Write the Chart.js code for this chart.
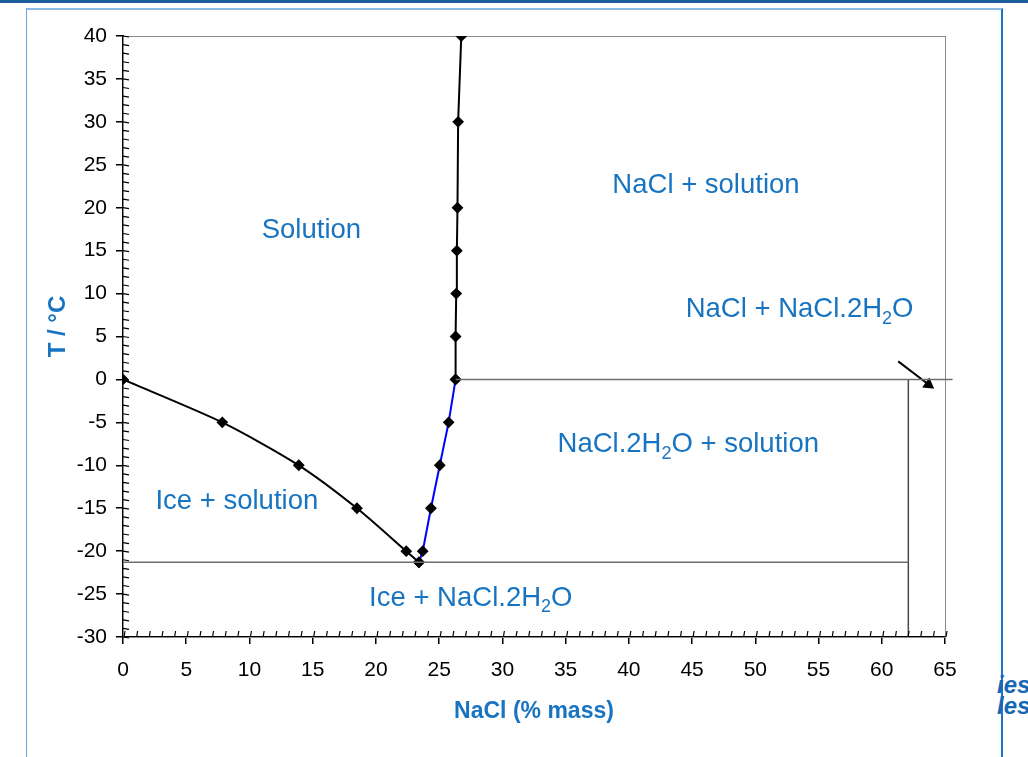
<html>
<head>
<script src="https://cdn.jsdelivr.net/npm/chart.js"></script>
<style>
  body { margin:0; background:#fff; font-family:"Liberation Sans", Arial, sans-serif; }
  #bar { position:absolute; left:0; top:0; width:1028px; height:3px; background:#1d5e9e; }
  #frame { position:absolute; left:26px; top:8px; width:974px; height:800px;
           border-left:1px solid #6aa6dc; border-top:2px solid #8bbbe6; border-right:2px solid #1874c1; }
  #logo { position:absolute; left:997px; top:674px; color:#1668b5; font:italic bold 24px "Liberation Sans", Arial, sans-serif; line-height:21px; }
  #c { position:absolute; left:0; top:0; }
</style>
</head>
<body>
<div id="bar"></div>
<div id="frame"></div>
<div id="logo">ies<br>les</div>
<canvas id="c" width="1028" height="757"></canvas>
<script>
// liquidus of ice
var iceX = [0, 7.85, 13.9, 18.5, 22.4, 23.4];
var iceT = [0, -5, -10, -15, -20, -21.3];
// NaCl.2H2O solubility
var hydX = [23.4, 23.7, 24.35, 25.05, 25.75, 26.3];
var hydT = [-21.3, -20, -15, -10, -5, 0];
// NaCl solubility
var saltX = [26.3, 26.3, 26.35, 26.4, 26.45, 26.5, 26.75];
var saltT = [0, 5, 10, 15, 20, 30, 40];
// horizontal / vertical phase lines
var eutX = [0, 62.1];
var eutT = [-21.3, -21.3];
var perX = [26.3, 65.6];
var perT = [0, 0];
var dihX = [62.1, 62.1];
var dihT = [-30, 0];
var arrowX = [61.3, 63.7];
var arrowT = [2.1, -0.6];

var regionText = ['Solution', 'NaCl + solution', 'NaCl + NaCl.2H₂O', 'NaCl.2H₂O + solution', 'Ice + solution', 'Ice + NaCl.2H₂O'];
var regionX = [14.9, 46.1, 53.5, 44.7, 9.0, 27.5];
var regionT = [17.3, 22.6, 8.1, -7.6, -14.2, -25.5];

var blue = '#1874c1';

function pts(xs, ys) {
  return xs.map(function(x, i) { return {x: x, y: ys[i]}; });
}

var frame = {
  id: 'frame',
  beforeDatasetsDraw: function(chart) {
    var a = chart.chartArea, ctx = chart.ctx;
    ctx.save();
    ctx.strokeStyle = '#8a8a8a';
    ctx.lineWidth = 1;
    ctx.strokeRect(a.left + 0.5, a.top + 0.5, a.right - a.left, a.bottom - a.top);
    ctx.restore();
  },
  afterDraw: function(chart) {
    var ctx = chart.ctx, xs = chart.scales.x, ys = chart.scales.y;
    ctx.save();
    ctx.strokeStyle = '#000';
    ctx.lineWidth = 1.2;
    // minor ticks, inside the axes
    for (var v = 0; v <= 65; v++) {
      var px = xs.getPixelForValue(v);
      ctx.beginPath(); ctx.moveTo(px + 1, ys.bottom); ctx.lineTo(px + 2, ys.bottom - 6); ctx.stroke();
    }
    for (var t = -30; t <= 40; t++) {
      var py = ys.getPixelForValue(t);
      ctx.beginPath(); ctx.moveTo(xs.left, py); ctx.lineTo(xs.left + 6, py + 1); ctx.stroke();
    }
    // region labels
    ctx.fillStyle = blue;
    ctx.textBaseline = 'middle';
    regionText.forEach(function(txt, i) {
      var big = '27.5px "Liberation Sans", Arial, sans-serif';
      var small = '18px "Liberation Sans", Arial, sans-serif';
      var parts = txt.split('₂');
      var w = 0;
      parts.forEach(function(p, j) {
        ctx.font = big; w += ctx.measureText(p).width;
        if (j < parts.length - 1) { ctx.font = small; w += ctx.measureText('2').width; }
      });
      var x = xs.getPixelForValue(regionX[i]) - w / 2;
      var y = ys.getPixelForValue(regionT[i]);
      ctx.textAlign = 'left';
      parts.forEach(function(p, j) {
        ctx.font = big; ctx.fillText(p, x, y); x += ctx.measureText(p).width;
        if (j < parts.length - 1) {
          ctx.font = small; ctx.fillText('2', x, y + 9); x += ctx.measureText('2').width;
        }
      });
    });
    ctx.restore();
  }
};

var tickFont = {family: '"Liberation Sans", Arial, sans-serif', size: 21};
var titleFont = {family: '"Liberation Sans", Arial, sans-serif', size: 23, weight: 'bold'};

new Chart(document.getElementById('c'), {
  type: 'scatter',
  data: {
    datasets: [
      { data: pts(eutX, eutT), showLine: true, borderColor: '#6e6e6e', borderWidth: 1.5, pointRadius: 0 },
      { data: pts(perX, perT), showLine: true, borderColor: '#6e6e6e', borderWidth: 1.5, pointRadius: 0, clip: false },
      { data: pts(dihX, dihT), showLine: true, borderColor: '#4a4a4a', borderWidth: 1.5, pointRadius: 0 },
      { data: pts(arrowX, arrowT), showLine: true, borderColor: '#000', backgroundColor: '#000', borderWidth: 2,
        pointStyle: 'triangle', pointRadius: [0, 5], rotation: 126, clip: false },
      { data: pts(iceX, iceT), showLine: true, borderColor: '#000', borderWidth: 2, tension: 0.25,
        pointStyle: 'rectRot', pointRadius: 4.5, backgroundColor: '#000', pointBorderColor: '#000' },
      { data: pts(hydX, hydT), showLine: true, borderColor: '#0000ff', borderWidth: 2,
        pointStyle: 'rectRot', pointRadius: 4.5, backgroundColor: '#000', pointBorderColor: '#000' },
      { data: pts(saltX, saltT), showLine: true, borderColor: '#000', borderWidth: 2,
        pointStyle: 'rectRot', pointRadius: 4.5, backgroundColor: '#000', pointBorderColor: '#000' }
    ]
  },
  options: {
    responsive: false,
    animation: false,
    layout: { padding: { left: 0, right: 83, top: 36, bottom: 0 } },
    plugins: { legend: { display: false }, tooltip: { enabled: false } },
    scales: {
      x: {
        type: 'linear', min: 0, max: 65,
        ticks: { stepSize: 5, color: '#000', font: tickFont, padding: 14, maxRotation: 0 },
        grid: { drawOnChartArea: false, tickLength: 7, color: '#000', lineWidth: 1.5 },
        border: { color: '#000', width: 2 },
        title: { display: true, text: 'NaCl (% mass)', color: blue, font: titleFont, padding: { top: 0, bottom: 32 } },
        afterFit: function(s) { s.height = 120; }
      },
      y: {
        type: 'linear', min: -30, max: 40,
        ticks: { stepSize: 5, color: '#000', font: tickFont, padding: 9 },
        grid: { drawOnChartArea: false, tickLength: 7, color: '#000', lineWidth: 1.5 },
        border: { color: '#000', width: 2 },
        title: { display: true, text: '   T / °C', color: blue, font: {family: titleFont.family, size: 24, weight: 'bold'}, padding: { top: 44, bottom: 0 } },
        afterFit: function(s) { s.width = 123; }
      }
    }
  },
  plugins: [frame]
});
</script>
</body>
</html>
